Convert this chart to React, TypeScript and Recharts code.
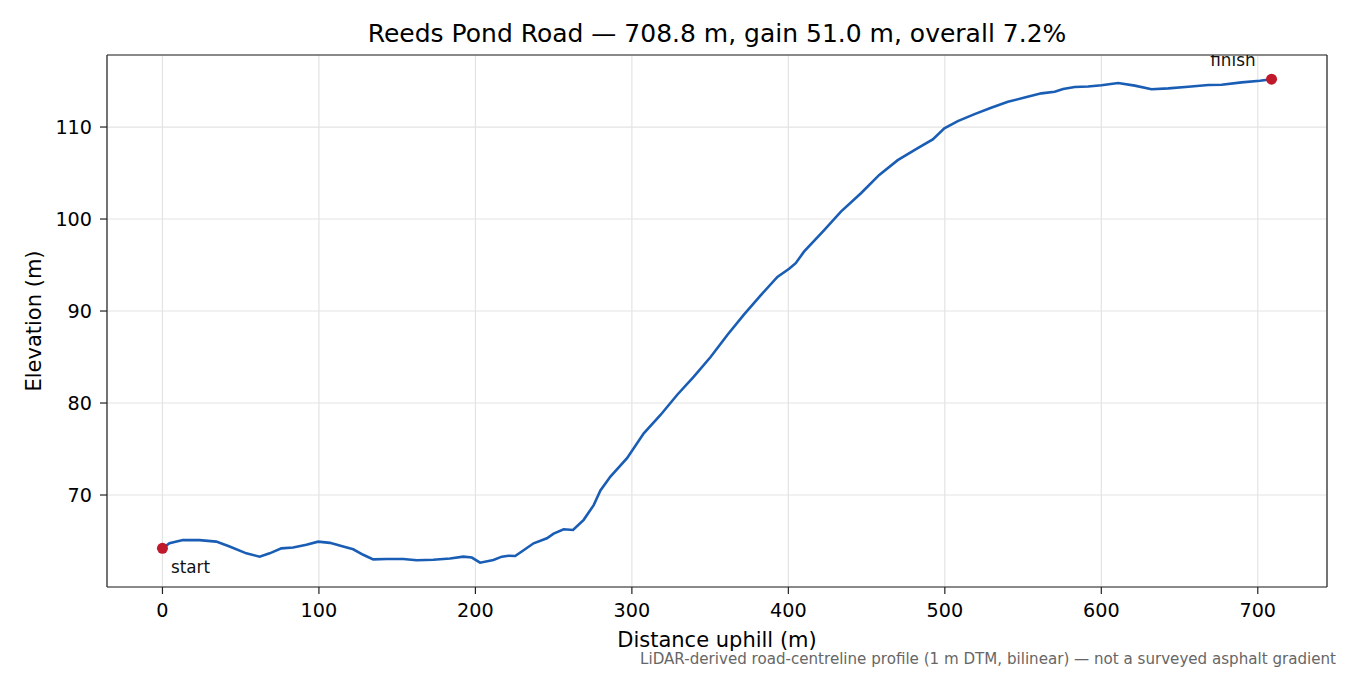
import React from "react";
import {
  ComposedChart,
  Line,
  Scatter,
  XAxis,
  YAxis,
  CartesianGrid,
  ReferenceLine,
} from "recharts";

const distance: number[] = [
  0, 4.5, 13, 23.7, 34.4, 42.9, 53.6, 62.1, 68.5, 76,
  83.5, 92, 99.5, 107, 115.5, 121.9, 128.3, 134.7, 143.3, 153.9,
  162.5, 173.1, 183.8, 192.3, 197.7, 203, 211.5, 216.9, 221.2, 225.4,
  230.8, 237.2, 245.7, 250, 256.4, 262.4, 269.2, 275.6, 279.9, 286.3,
  296.9, 307.6, 318.3, 329, 339.6, 350.3, 361, 371.6, 382.3, 393,
  400.5, 404.7, 410, 422.9, 433.6, 446.4, 458.1, 469.9, 482.7, 492.3,
  499.7, 508.3, 519, 529.6, 540.3, 551, 561.7, 570.2, 575.6, 583,
  591.6, 600.1, 610.8, 621.4, 632.1, 642.8, 655.6, 668.4, 676.9, 689.7,
  701.4, 708.8,
];

const elevation: number[] = [
  64.2, 64.75, 65.1, 65.1, 64.93, 64.4, 63.66, 63.3, 63.66, 64.2,
  64.3, 64.6, 64.93, 64.8, 64.4, 64.1, 63.5, 63.0, 63.04, 63.04,
  62.9, 62.97, 63.1, 63.3, 63.2, 62.64, 62.93, 63.3, 63.4, 63.37,
  64.0, 64.75, 65.3, 65.8, 66.27, 66.2, 67.3, 68.9, 70.5, 72.0,
  74.0, 76.7, 78.7, 80.9, 82.86, 85.0, 87.4, 89.6, 91.7, 93.7,
  94.6, 95.2, 96.45, 98.8, 100.8, 102.8, 104.8, 106.4, 107.7, 108.66,
  109.86, 110.65, 111.4, 112.1, 112.75, 113.2, 113.66, 113.84, 114.13, 114.35,
  114.4, 114.55, 114.78, 114.5, 114.1, 114.2, 114.38, 114.57, 114.6, 114.85,
  115.03, 115.2,
];

const endpointLabels: string[] = ["start", "finish"];
const endpointDistance: number[] = [0, 708.8];
const endpointElevation: number[] = [64.2, 115.2];

const xTicks: number[] = [0, 100, 200, 300, 400, 500, 600, 700];
const yTicks: number[] = [70, 80, 90, 100, 110];
const xDomain: [number, number] = [-35.44, 744.24];
const yDomain: [number, number] = [60.0, 117.83];

const TITLE = "Reeds Pond Road \u2014 708.8 m, gain 51.0 m, overall 7.2%";
const X_LABEL = "Distance uphill (m)";
const Y_LABEL = "Elevation (m)";
const FOOTNOTE =
  "LiDAR-derived road-centreline profile (1 m DTM, bilinear) \u2014 not a surveyed asphalt gradient";

const profile = distance.map((d, i) => ({ d, e: elevation[i] }));
const endpoints = endpointLabels.map((label, i) => ({
  d: endpointDistance[i],
  e: endpointElevation[i],
  label,
}));

const FONT = "'DejaVu Sans', sans-serif";
const W = 1350;
const H = 675;
const SPINE = "#222";

const EndpointShape = (props: any) => {
  const { cx, cy, payload } = props;
  if (cx == null || cy == null) return null;
  const isStart = payload.label === "start";
  return (
    <g>
      <circle cx={cx} cy={cy} r={5.5} fill="#c0192b" />
      <text
        x={isStart ? cx + 8.5 : cx - 16}
        y={isStart ? cy + 25 : cy - 13}
        textAnchor={isStart ? "start" : "end"}
        fontFamily={FONT}
        fontSize={16.8}
        fill="#111"
      >
        {payload.label}
      </text>
    </g>
  );
};

export default function App() {
  const tickStyle = { fontFamily: FONT, fontSize: 19.2, fill: "#000" };
  return (
    <div
      style={{
        position: "fixed",
        left: 0,
        top: 0,
        width: W,
        height: H,
        background: "#fff",
      }}
    >
      <ComposedChart
        width={W}
        height={H}
        data={profile}
        margin={{ top: 55, right: 23, bottom: 58, left: 47 }}
      >
        <CartesianGrid stroke="#e3e3e3" strokeWidth={1.2} />
        <XAxis
          dataKey="d"
          type="number"
          domain={xDomain}
          ticks={xTicks}
          allowDataOverflow
          height={30}
          tickSize={7}
          tickMargin={9}
          tick={tickStyle}
          tickLine={{ stroke: SPINE, strokeWidth: 1.2 }}
          axisLine={{ stroke: SPINE, strokeWidth: 1.2 }}
        />
        <YAxis
          type="number"
          domain={yDomain}
          ticks={yTicks}
          allowDataOverflow
          width={60}
          tickSize={7}
          tickMargin={8}
          tick={tickStyle}
          tickLine={{ stroke: SPINE, strokeWidth: 1.2 }}
          axisLine={{ stroke: SPINE, strokeWidth: 1.2 }}
        />
        <ReferenceLine
          y={yDomain[1]}
          stroke={SPINE}
          strokeWidth={1.2}
          ifOverflow="visible"
        />
        <ReferenceLine
          x={xDomain[1]}
          stroke={SPINE}
          strokeWidth={1.2}
          ifOverflow="visible"
        />
        <Line
          type="linear"
          dataKey="e"
          stroke="#1a5db4"
          strokeWidth={2.6}
          dot={false}
          activeDot={false}
          isAnimationActive={false}
        />
        <Scatter
          data={endpoints}
          dataKey="e"
          shape={EndpointShape}
          isAnimationActive={false}
        />
      </ComposedChart>
      <svg
        width={W}
        height={H}
        style={{ position: "absolute", left: 0, top: 0, pointerEvents: "none" }}
      >
        <text
          x={717}
          y={42}
          textAnchor="middle"
          fontFamily={FONT}
          fontSize={25}
          fill="#000"
        >
          {TITLE}
        </text>
        <text
          x={717}
          y={647}
          textAnchor="middle"
          fontFamily={FONT}
          fontSize={21}
          fill="#000"
        >
          {X_LABEL}
        </text>
        <text
          x={0}
          y={0}
          transform="translate(41 321) rotate(-90)"
          textAnchor="middle"
          fontFamily={FONT}
          fontSize={21}
          fill="#000"
        >
          {Y_LABEL}
        </text>
        <text
          x={1336}
          y={664}
          textAnchor="end"
          fontFamily={FONT}
          fontSize={15.1}
          fill="#666"
        >
          {FOOTNOTE}
        </text>
      </svg>
    </div>
  );
}
